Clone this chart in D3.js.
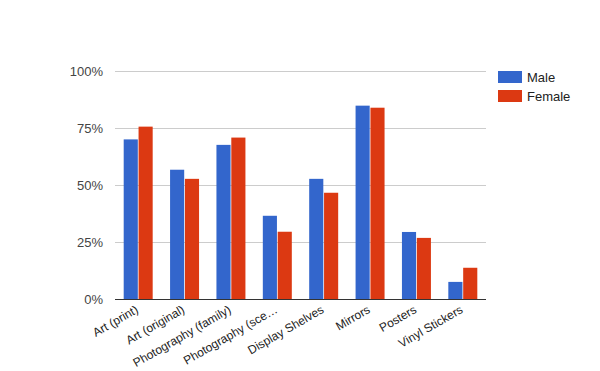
<!DOCTYPE html>
<html><head><meta charset="utf-8">
<script src="https://cdn.jsdelivr.net/npm/d3@7"></script>
<style>body{margin:0;background:#fff}svg{display:block;font-family:Arial,"Liberation Sans",sans-serif}</style>
</head><body><svg id="c" width="600" height="371"></svg>
<script>
const categories = ["Art (print)","Art (original)","Photography (family)","Photography (sce…","Display Shelves","Mirrors","Posters","Vinyl Stickers"];
const male = [70, 56.7, 67.6, 36.5, 52.7, 84.8, 29.4, 7.5];
const female = [75.6, 52.7, 70.8, 29.5, 46.6, 83.9, 26.8, 13.7];
const seriesNames = ["Male","Female"];
const colors = ["#3366cc","#dc3912"];
const yTicks = [0,25,50,75,100];

const svg = d3.select("#c");
const x = d3.scaleBand().domain(categories).range([115,486]).paddingInner(0.375).paddingOuter(0.1875);
const y = d3.scaleLinear().domain([0,100]).range([299,71]);
const xs = d3.scaleBand().domain(seriesNames).range([0,x.bandwidth()]).paddingInner(0.05);

svg.append("g").selectAll("line").data(yTicks.filter(d=>d>0)).join("line")
  .attr("x1",115).attr("x2",486).attr("y1",d=>Math.round(y(d))+0.5).attr("y2",d=>Math.round(y(d))+0.5)
  .attr("stroke","#cccccc");
svg.append("g").selectAll("text").data(yTicks).join("text")
  .attr("x",103).attr("y",d=>y(d)+4.5).attr("text-anchor","end")
  .attr("font-size",13).attr("fill","#444").text(d=>d+"%");

const data = categories.map((c,i)=>({c, vals:[male[i],female[i]]}));
const g = svg.append("g");
seriesNames.forEach((s,si)=>{
  g.selectAll(".b"+si).data(data).join("rect")
    .attr("x",d=>x(d.c)+xs(s)).attr("width",xs.bandwidth())
    .attr("y",d=>y(d.vals[si])).attr("height",d=>y(0)-y(d.vals[si]))
    .attr("fill",colors[si]);
});
svg.append("line").attr("x1",115).attr("x2",486).attr("y1",299.5).attr("y2",299.5).attr("stroke","#333");
svg.append("g").selectAll("text").data(categories).join("text")
  .attr("text-anchor","end").attr("font-size",12).attr("fill","#222")
  .attr("transform",d=>`translate(${x(d)+x.bandwidth()/2+1},${312}) rotate(-30)`)
  .text(d=>d);
const lg = svg.append("g");
seriesNames.forEach((s,i)=>{
  lg.append("rect").attr("x",498).attr("y",71+i*19).attr("width",24).attr("height",12).attr("fill",colors[i]);
  lg.append("text").attr("x",527).attr("y",81.5+i*19).attr("font-size",13).attr("fill","#222").text(s);
});
</script></body></html>
